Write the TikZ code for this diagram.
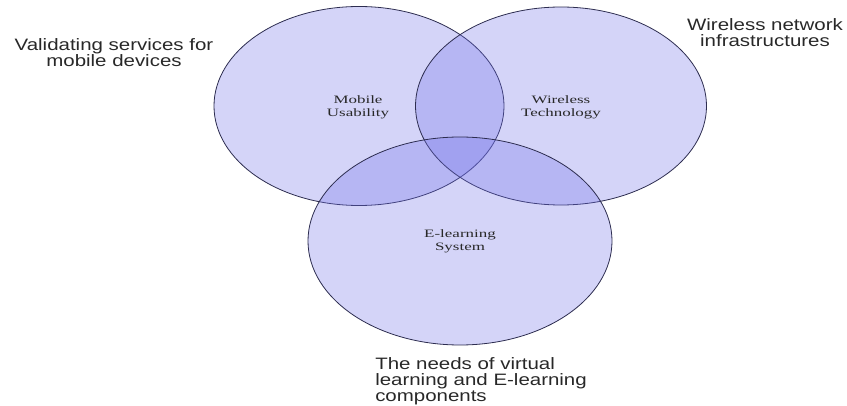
\documentclass[tikz,border=0pt]{standalone}
\usepackage{fontspec}
\setmainfont{Liberation Serif}
\newfontfamily\labelsans{Liberation Sans}
\begin{document}
\definecolor{setfill}{RGB}{112,112,232}
\definecolor{setline}{RGB}{45,45,80}
\definecolor{txt}{RGB}{40,40,40}
\begin{tikzpicture}[x=1pt,y=-1pt,
  setshape/.style={draw=setline,line width=0.8pt,fill=setfill,fill opacity=0.3},
  inner/.style={align=center,text=txt,xscale=1.5,font=\fontsize{11.3}{13.4}\selectfont,inner sep=0pt},
  outer/.style={text=txt,xscale=1.24,font=\labelsans\fontsize{16.5}{16.2}\selectfont,inner sep=0pt}]
\useasboundingbox (0,0) rectangle (847,406);
% the three overlapping sets
\draw[setshape] (359,106) ellipse [x radius=145, y radius=99.5];
\draw[setshape] (561,106) ellipse [x radius=145.5, y radius=99];
\draw[setshape] (460,241) ellipse [x radius=152, y radius=104];
% set names
\node[inner] (mu) at (358,107.4) {Mobile\\Usability};
\node[inner] (wt) at (561,107.1) {Wireless\\Technology};
\node[inner] (el) at (460,241.4) {E-learning\\System};
% descriptions around the diagram
\node[outer,align=center] (vs) at (114,52.4) {Validating services for\\mobile devices};
\node[outer,align=center] (wn) at (765,32.4) {Wireless network\\infrastructures};
\node[outer,align=left,anchor=north west] (nv) at (375,357.3) {The needs of virtual\\learning and E-learning\\components};
\end{tikzpicture}
\end{document}
